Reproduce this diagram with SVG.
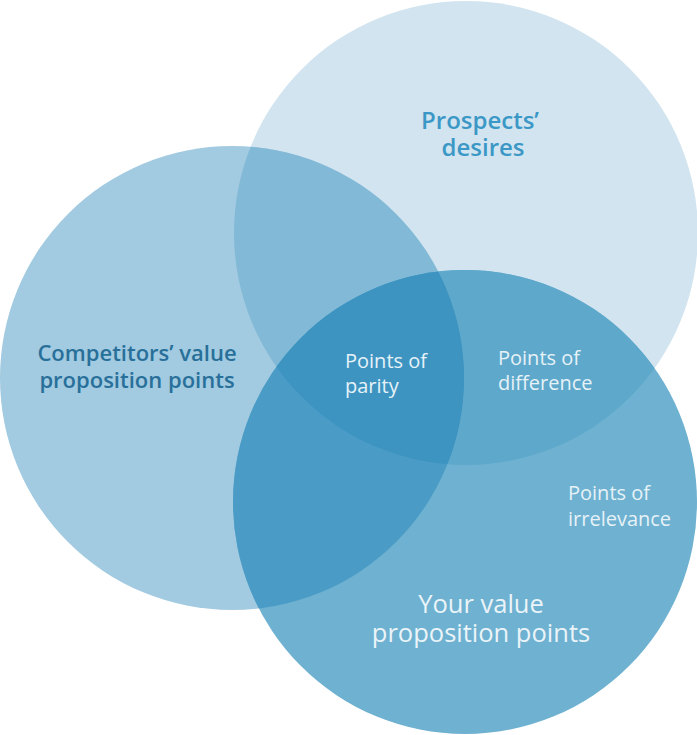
<svg xmlns="http://www.w3.org/2000/svg" width="697" height="735" viewBox="0 0 697 735">
<style>
.lbl{font-family:"Open Sans","Noto Sans","Liberation Sans",sans-serif;}
.big{font-size:22px;font-weight:600;}
.big2{font-size:24px;font-weight:600;}
.main{font-size:25.5px;font-weight:400;fill:#eaf4f9;}
.small{font-size:20px;font-weight:400;fill:#e6f2f8;}
</style>
<defs>
<clipPath id="cTop"><circle cx="466" cy="233" r="232"/></clipPath>
<clipPath id="cLeft"><circle cx="232" cy="378" r="232"/></clipPath>
<clipPath id="cBot"><circle cx="465" cy="502" r="232"/></clipPath>
</defs>
<g id="prospects">
<circle cx="466" cy="233" r="232" fill="#d1e4ef"/>
</g>
<g id="competitors">
<circle cx="232" cy="378" r="232" fill="#a2cae0"/>
</g>
<g id="yours">
<circle cx="465" cy="502" r="232" fill="#6eb1d0"/>
</g>
<g id="overlaps">
<circle cx="232" cy="378" r="232" fill="#82b9d6" clip-path="url(#cTop)"/>
<circle cx="465" cy="502" r="232" fill="#5ea8cb" clip-path="url(#cTop)"/>
<circle cx="465" cy="502" r="232" fill="#4a9cc6" clip-path="url(#cLeft)"/>
<g clip-path="url(#cTop)"><circle cx="465" cy="502" r="232" fill="#3d94c1" clip-path="url(#cLeft)"/></g>
</g>
<g id="labels" class="lbl">
<text class="big2" fill="#3b98c6" text-anchor="middle"><tspan x="480" y="129">Prospects’</tspan><tspan x="483" y="156">desires</tspan></text>
<text class="big" fill="#28709a" text-anchor="middle"><tspan x="137" y="361">Competitors’ value</tspan><tspan x="137" y="388">proposition points</tspan></text>
<text class="small"><tspan x="345" y="368">Points of</tspan><tspan x="345" y="393">parity</tspan></text>
<text class="small"><tspan x="498" y="365">Points of</tspan><tspan x="498" y="390">difference</tspan></text>
<text class="small"><tspan x="568" y="500">Points of</tspan><tspan x="568" y="526">irrelevance</tspan></text>
<text class="main" text-anchor="middle"><tspan x="481" y="613">Your value</tspan><tspan x="481" y="642">proposition points</tspan></text>
</g>
</svg>
